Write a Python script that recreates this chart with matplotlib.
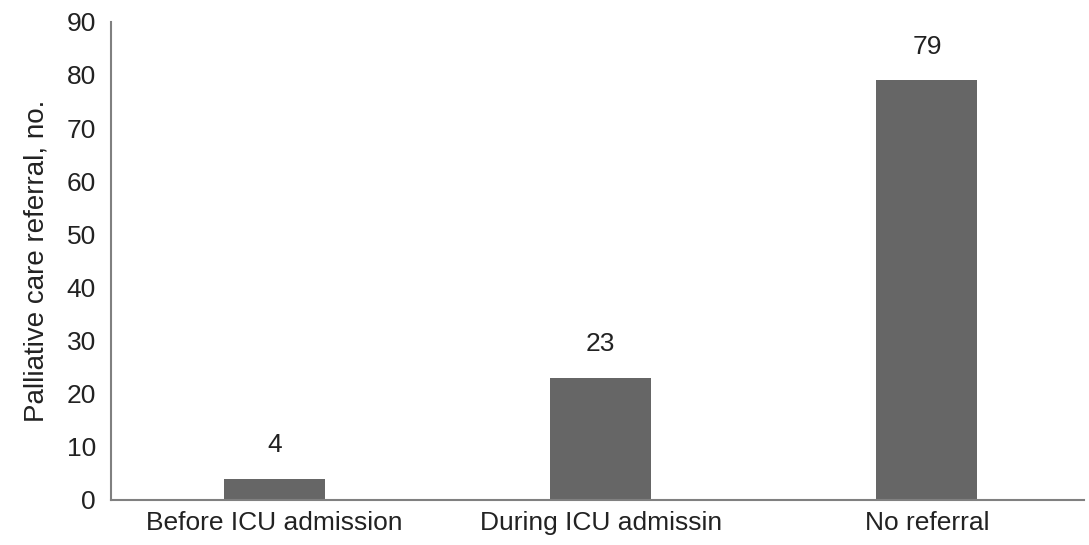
import matplotlib.pyplot as plt

# referral timing categories and counts
categories = ["Before ICU admission", "During ICU admissin", "No referral"]
counts = [4, 23, 79]

plt.rcParams["font.family"] = ["Liberation Sans", "DejaVu Sans"]

fig = plt.figure(figsize=(10.89, 5.45), dpi=100)
ax = fig.add_axes([0.102, 0.083, 0.893, 0.877])

bars = ax.bar(range(len(categories)), counts, width=0.31, color="#666666")

for bar, value in zip(bars, counts):
    ax.text(
        bar.get_x() + bar.get_width() / 2,
        value + 4,
        str(value),
        ha="center",
        va="bottom",
        fontsize=19,
        color="#222222",
    )

ax.set_xlim(-0.5, 2.48)
ax.set_ylim(0, 90)
ax.set_yticks(range(0, 91, 10))
ax.set_xticks(range(len(categories)))
ax.set_xticklabels(categories)

ax.spines["top"].set_visible(False)
ax.spines["right"].set_visible(False)
ax.spines["left"].set_color("#808080")
ax.spines["bottom"].set_color("#808080")
ax.spines["left"].set_linewidth(1.5)
ax.spines["bottom"].set_linewidth(1.5)

ax.tick_params(axis="y", length=0, labelsize=19, colors="#222222", pad=11)
ax.tick_params(axis="x", length=0, labelsize=19, colors="#222222", pad=8)

ax.set_ylabel("Palliative care referral, no.", fontsize=20, color="#222222", labelpad=12)

fig.savefig("out.png", dpi=100)
